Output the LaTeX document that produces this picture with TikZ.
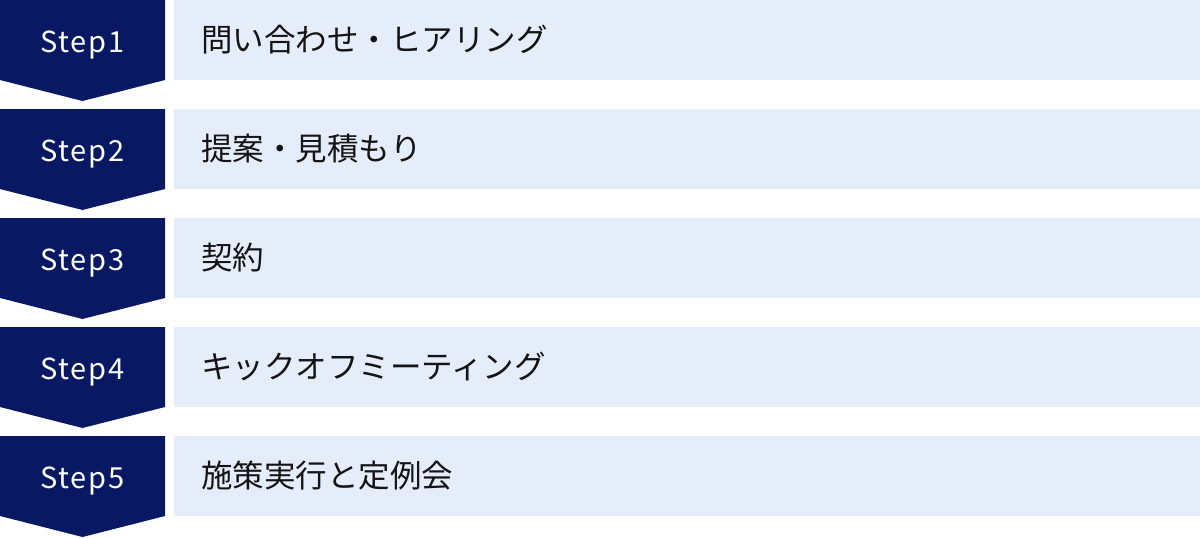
\documentclass[tikz,border=0pt]{standalone}
\usepackage{fontspec}
\setmainfont{Noto Sans CJK JP}
\usepackage{tikz}

\definecolor{stepnavy}{RGB}{8,24,98}
\definecolor{barblue}{RGB}{229,236,250}
\definecolor{bartext}{RGB}{20,20,20}

\tikzset{
  steplabel/.style={text=white, inner sep=0pt, anchor=base,
    font=\fontsize{29}{32}\selectfont\addfontfeatures{LetterSpace=6}},
  barbox/.style={fill=barblue, minimum width=1026pt, minimum height=80pt,
    inner sep=0pt, anchor=north west},
  bartitle/.style={text=bartext, inner sep=0pt, anchor=base west,
    font=\fontsize{31.5}{34}\selectfont}
}

\begin{document}
\begin{tikzpicture}[x=1pt, y=-1pt]
  \useasboundingbox (0,0) rectangle (1200,538);
  \foreach \n/\t in {1/問い合わせ・ヒアリング, 2/提案・見積もり, 3/契約,
      4/キックオフミーティング, 5/施策実行と定例会} {
    % chevron
    \fill [stepnavy] (0,{109*(\n-1)}) -- ++(165,0) -- ++(0,80)
      -- ++(-82.5,21) -- ++(-82.5,-21) -- cycle;
    \node[steplabel] (step\n) at (82.5,{109*(\n-1)+52}) {Step\n};
    % bar
    \node[barbox] (bar\n) at (174,{109*(\n-1)}) {};
    \node[bartitle] (title\n) at (201,{109*(\n-1)+51}) {\t};
  }
\end{tikzpicture}
\end{document}
